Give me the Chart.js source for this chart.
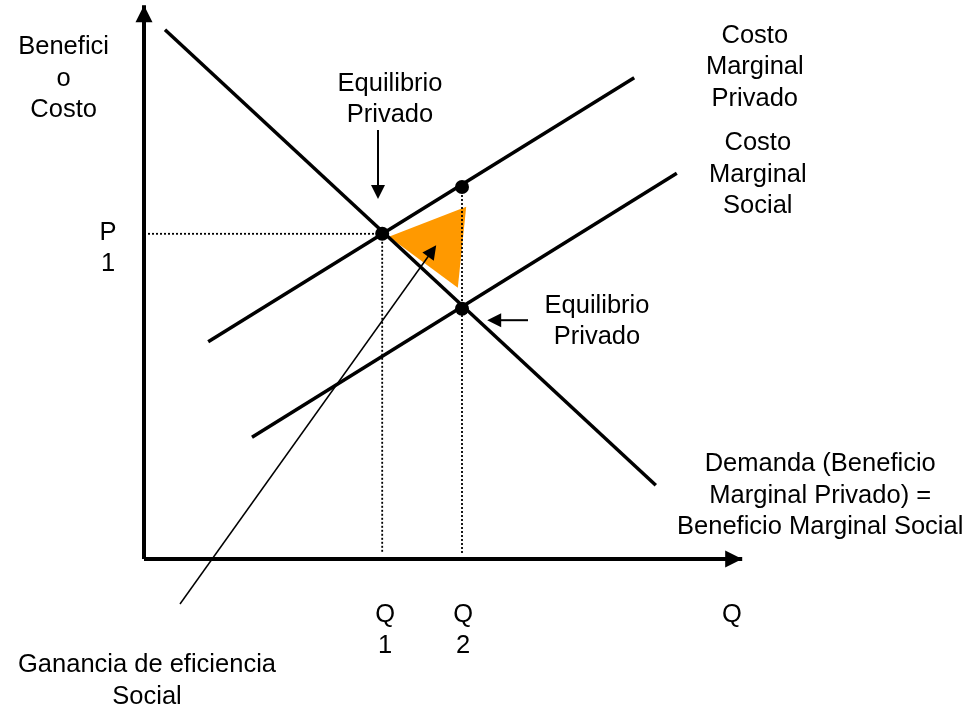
<!DOCTYPE html>
<html lang="es">
<head>
<meta charset="UTF-8">
<title>Externalidad - Ganancia de eficiencia</title>
<script src="https://cdn.jsdelivr.net/npm/chart.js"></script>
<style>
  body { margin: 0; background: #fff; }
  .caja { width: 971px; height: 709px; position: relative; }
</style>
</head>
<body>
<div class="caja"><canvas id="grafico"></canvas></div>

<script>
// datos (unidades de cantidad / precio)
var demanda = [{x: 0.35, y: 8.82}, {x: 8.53, y: 1.23}];
var cmgPrivado = [{x: 1.07, y: 3.62}, {x: 8.17, y: 8.02}];
var cmgSocial = [{x: 1.80, y: 2.03}, {x: 8.88, y: 6.43}];
var equilibrios = [{x: 3.97, y: 5.42}, {x: 5.30, y: 6.20}, {x: 5.30, y: 4.17}];
var guiaP1 = [{x: 0, y: 5.42}, {x: 3.97, y: 5.42}];
var guiaQ1 = [{x: 3.97, y: 5.42}, {x: 3.97, y: 0.1}];
var guiaQ2 = [{x: 5.30, y: 6.20}, {x: 5.30, y: 0.1}];
var triangulo = [{x: 4.08, y: 5.37}, {x: 5.37, y: 5.87}, {x: 5.23, y: 4.52}];
var ejeY = [{x: 0, y: 0}, {x: 0, y: 9.23}];
var ejeX = [{x: 0, y: 0}, {x: 9.97, y: 0}];

// flechas: [desde, hasta, grosor, tamaño punta]
var flechas = [
  [{x: 3.90, y: 7.15}, {x: 3.90, y: 6.00}, 2, 14],
  [{x: 6.40, y: 3.98}, {x: 5.72, y: 3.98}, 2, 14],
  [{x: 0.60, y: -0.75}, {x: 4.87, y: 5.23}, 1.5, 14]
];

var textos = [
  [["Benefici", "o", "Costo"], -1.34, 8.53],
  [["P", "1"], -0.60, 5.44],
  [["Equilibrio", "Privado"], 4.10, 7.92],
  [["Costo", "Marginal", "Privado"], 10.18, 8.72],
  [["Costo", "Marginal", "Social"], 10.23, 6.93],
  [["Equilibrio", "Privado"], 7.55, 4.22],
  [["Demanda (Beneficio", "Marginal Privado) =", "Beneficio Marginal Social"], 11.27, 1.58],
  [["Q", "1"], 4.02, -0.93],
  [["Q", "2"], 5.32, -0.93],
  [["Q"], 9.80, -0.93],
  [["Ganancia de eficiencia", "Social"], 0.05, -1.77]
];

function punta(ctx, x1, y1, x2, y2, tam) {
  var ang = Math.atan2(y2 - y1, x2 - x1);
  ctx.beginPath();
  ctx.moveTo(x2, y2);
  ctx.lineTo(x2 - tam * Math.cos(ang) + tam * 0.5 * Math.sin(ang), y2 - tam * Math.sin(ang) - tam * 0.5 * Math.cos(ang));
  ctx.lineTo(x2 - tam * Math.cos(ang) - tam * 0.5 * Math.sin(ang), y2 - tam * Math.sin(ang) + tam * 0.5 * Math.cos(ang));
  ctx.closePath();
  ctx.fill();
}

var dibujoExtra = {
  id: 'dibujoExtra',
  beforeDatasetsDraw(chart) {
    var ctx = chart.ctx, sx = chart.scales.x, sy = chart.scales.y;
    ctx.save();
    ctx.fillStyle = '#FF9900';
    ctx.beginPath();
    triangulo.forEach(function (p, i) {
      var px = sx.getPixelForValue(p.x), py = sy.getPixelForValue(p.y);
      if (i == 0) ctx.moveTo(px, py); else ctx.lineTo(px, py);
    });
    ctx.closePath();
    ctx.fill();
    ctx.restore();
  },
  afterDatasetsDraw(chart) {
    var ctx = chart.ctx, sx = chart.scales.x, sy = chart.scales.y;
    ctx.save();
    ctx.fillStyle = '#000';
    ctx.strokeStyle = '#000';

    // puntas de los ejes
    punta(ctx, sx.getPixelForValue(0), sy.getPixelForValue(0), sx.getPixelForValue(ejeY[1].x), sy.getPixelForValue(ejeY[1].y), 17);
    punta(ctx, sx.getPixelForValue(0), sy.getPixelForValue(0), sx.getPixelForValue(ejeX[1].x), sy.getPixelForValue(ejeX[1].y), 17);

    for (var i = 0; i < flechas.length; i++) {
      var f = flechas[i];
      var x1 = sx.getPixelForValue(f[0].x), y1 = sy.getPixelForValue(f[0].y);
      var x2 = sx.getPixelForValue(f[1].x), y2 = sy.getPixelForValue(f[1].y);
      var ang = Math.atan2(y2 - y1, x2 - x1);
      ctx.lineWidth = f[2];
      ctx.beginPath();
      ctx.moveTo(x1, y1);
      ctx.lineTo(x2 - (f[3] - 2) * Math.cos(ang), y2 - (f[3] - 2) * Math.sin(ang));
      ctx.stroke();
      punta(ctx, x1, y1, x2, y2, f[3]);
    }

    ctx.font = '25.5px "Liberation Sans", Arial, sans-serif';
    ctx.textAlign = 'center';
    ctx.textBaseline = 'middle';
    for (var j = 0; j < textos.length; j++) {
      var t = textos[j];
      var cx = sx.getPixelForValue(t[1]), cy = sy.getPixelForValue(t[2]);
      for (var k = 0; k < t[0].length; k++) {
        ctx.fillText(t[0][k], cx, cy + k * 31.5);
      }
    }
    ctx.restore();
  }
};

function recta(datos, grosor) {
  return { data: datos, showLine: true, borderColor: '#000', borderWidth: grosor, pointRadius: 0, fill: false };
}

function punteada(datos) {
  return { data: datos, showLine: true, borderColor: '#000', borderWidth: 1.8, borderDash: [2, 2], pointRadius: 0, fill: false };
}

const ctx = document.getElementById('grafico');

const Grafico = new Chart(ctx, {
  type: 'scatter',
  data: {
    datasets: [
      { data: equilibrios, pointRadius: 7, pointBackgroundColor: '#000', pointBorderWidth: 0, showLine: false },
      recta(demanda, 3.5),
      recta(cmgPrivado, 3.5),
      recta(cmgSocial, 3.5),
      recta(ejeY, 4),
      recta(ejeX, 4),
      punteada(guiaP1),
      punteada(guiaQ1),
      punteada(guiaQ2)
    ]
  },
  options: {
    responsive: true,
    maintainAspectRatio: false,
    animation: false,
    layout: { padding: 0, autoPadding: false },
    plugins: { legend: { display: false }, tooltip: { enabled: false } },
    scales: {
      x: { type: 'linear', min: -2.4, max: 13.7833, display: false },
      y: { type: 'linear', min: -2.5, max: 9.3167, display: false }
    }
  },
  plugins: [dibujoExtra]
});
</script>
</body>
</html>
